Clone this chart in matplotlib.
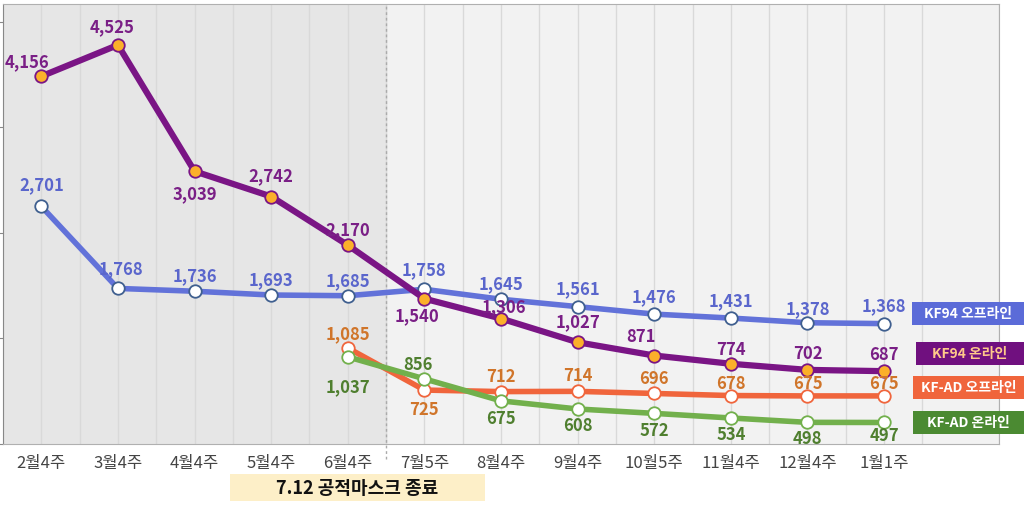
import matplotlib
matplotlib.use('Agg')
import matplotlib.pyplot as plt
from matplotlib.patches import Rectangle

plt.rcParams['font.family'] = ['Noto Sans CJK KR', 'DejaVu Sans']

# 데이터
weeks = ['2월4주', '3월4주', '4월4주', '5월4주', '6월4주', '7월5주',
         '8월4주', '9월4주', '10월5주', '11월4주', '12월4주', '1월1주']
kf94_off = [2701, 1768, 1736, 1693, 1685, 1758, 1645, 1561, 1476, 1431, 1378, 1368]
kf94_on = [4156, 4525, 3039, 2742, 2170, 1540, 1306, 1027, 871, 774, 702, 687]
kfad_off = [None, None, None, None, 1085, 725, 712, 714, 696, 678, 675, 675]
kfad_on = [None, None, None, None, 1037, 856, 675, 608, 572, 534, 498, 497]
series_names = ['KF94 오프라인', 'KF94 온라인', 'KF-AD 오프라인', 'KF-AD 온라인']

x = list(range(len(weeks)))

fig = plt.figure(figsize=(10.24, 5.06), dpi=100)
ax = fig.add_axes([3/1024, 61/506, 996/1024, 440/506])
ax.set_facecolor('#f2f2f2')
ax.axvspan(-0.5, 4.5, color='#e6e6e6', zorder=0)
ax.set_xlim(-0.5, 12.5)
ax.set_ylim(0, 5000)

# 세로 격자
ax.set_xticks(x)
ax.set_xticklabels(weeks, fontsize=12, color='#444444')
ax.set_xticks([i + 0.5 for i in range(-1, 13)], minor=True)
ax.grid(True, which='both', axis='x', color='#d9d9d9', linewidth=1)
ax.tick_params(axis='x', which='both', length=0, pad=7)
ax.set_yticks([0, 1200, 2400, 3600, 4800])
ax.set_yticklabels([])
ax.tick_params(axis='y', length=3, color='#888888', direction='out')
for s in ax.spines.values():
    s.set_color('#b0b0b0')
ax.spines['left'].set_color('#888888')
ax.axvline(4.5, ymin=-0.035, ymax=1, color='#aaaaaa', linestyle=(0, (2, 2)),
           linewidth=1, clip_on=False)


def hide(a):
    a.set_yticks([])
    for s in a.spines.values():
        s.set_visible(False)


def draw(a, vals, lc, lw, mfc, mec, tc, offsets):
    xs = [i for i, v in zip(x, vals) if v is not None]
    ys = [v for v in vals if v is not None]
    a.plot(xs, ys, color=lc, linewidth=lw, marker='o', markersize=9,
           markerfacecolor=mfc, markeredgecolor=mec, markeredgewidth=1.3,
           solid_capstyle='round', zorder=3)
    for xi, yi, off in zip(xs, ys, offsets):
        a.annotate(f'{yi:,}', (xi, yi), xytext=off, textcoords='offset pixels',
                   ha='center', va='center', fontsize=12, fontweight='bold',
                   color=tc, zorder=5)


# KF94 오프라인
draw(ax, kf94_off, '#6272d9', 4, 'white', '#3f5f8f', '#5a66cc',
     [(0, 22), (3, 20), (0, 16), (0, 16), (0, 16), (0, 20), (0, 16),
      (0, 18), (0, 18), (0, 18), (0, 15), (0, 18)])

# KF94 온라인
ax2 = ax.twinx()
ax2.set_ylim(-170, 5007)
hide(ax2)
draw(ax2, kf94_on, '#7a1585', 4.5, '#fbb02a', '#7a1585', '#7a1f86',
     [(-14, 15), (-6, 19), (0, -22), (0, 21), (0, 16), (-7, -17), (3, 12),
      (0, 21), (-13, 20), (0, 15), (0, 17), (0, 17)])

# KF-AD 오프라인
ax3 = ax.twinx()
ax3.set_ylim(264, 4025)
hide(ax3)
draw(ax3, kfad_off, '#f0653c', 4, 'white', '#f0653c', '#d0752a',
     [(0, 15), (0, -19), (0, 16), (0, 16), (0, 15), (0, 13), (0, 13), (0, 13)])

# KF-AD 온라인
ax4 = ax.twinx()
ax4.set_ylim(320, 3940)
hide(ax4)
draw(ax4, kfad_on, '#72b04c', 4, 'white', '#72b04c', '#4f7f2f',
     [(0, -29), (-6, 15), (0, -17), (0, -16), (0, -17), (0, -16), (0, -16), (0, -13)])

# 오른쪽 범례 상자
boxes = [(912, 303, '#5b6bd8', 'white'), (916, 343, '#70107f', '#ffc98a'),
         (913, 377, '#f0653c', 'white'), (913, 412, '#4b8a32', 'white')]
for (bx, by, fc, tc), name in zip(boxes, series_names):
    fig.patches.append(Rectangle((bx/1024, 1 - (by + 23)/506), (1024 - bx)/1024, 23/506,
                                 transform=fig.transFigure, facecolor=fc,
                                 edgecolor='none', zorder=10))
    fig.text((bx + 1024)/2/1024, 1 - (by + 11.5)/506, name, ha='center', va='center',
             fontsize=10, fontweight='bold', color=tc, zorder=11)

# 하단 주석
fig.patches.append(Rectangle((230/1024, 1 - 502/506), 255/1024, 27/506,
                             transform=fig.transFigure, facecolor='#fdefc8',
                             edgecolor='none', zorder=10))
fig.text(357/1024, 1 - 489/506, '7.12 공적마스크 종료', ha='center', va='center',
         fontsize=13, fontweight='bold', color='#111111', zorder=11)

fig.savefig('out.png', dpi=100)
